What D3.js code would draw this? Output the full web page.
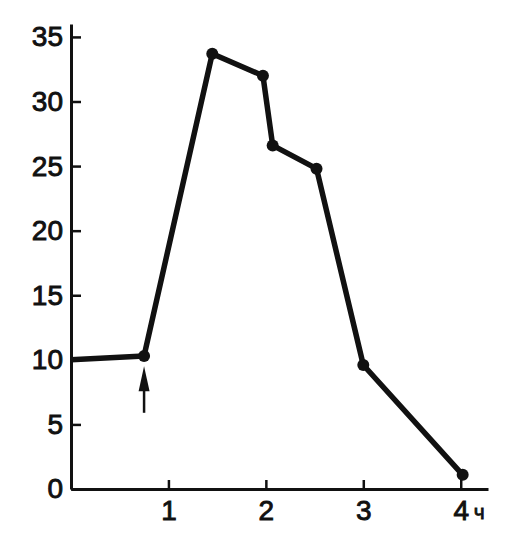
<!DOCTYPE html>
<html>
<head>
<meta charset="utf-8">
<script src="https://cdn.jsdelivr.net/npm/d3@7"></script>
<style>
body { margin: 0; background: #fff; }
svg text { font-family: "Liberation Sans", Arial, sans-serif; fill: #111; }
</style>
</head>
<body>
<div id="chart"></div>
<script>
// hours after start, measured value
var times = [0, 0.75, 1.45, 1.97, 2.07, 2.52, 3.0, 4.02];
var values = [10.0, 10.3, 33.7, 32.0, 26.6, 24.8, 9.6, 1.1];
var xTicks = [1, 2, 3, 4];
var yTicks = [0, 5, 10, 15, 20, 25, 30, 35];
var xUnit = "ч";
// arrow marking the moment of treatment
var arrowTime = 0.75;
var arrowFrom = 5.9, arrowTo = 9.5;

var W = 520, H = 534;
var svg = d3.select("#chart").append("svg")
    .attr("width", W).attr("height", H);

var x = d3.scaleLinear().domain([0, 4.28]).range([71, 488]);
var y = d3.scaleLinear().domain([0, 36]).range([489, 24]);

var yAxis = d3.axisLeft(y).tickValues(yTicks).tickFormat(d3.format("d"))
    .tickSizeInner(-10).tickSizeOuter(0).tickPadding(8);
var xAxis = d3.axisBottom(x).tickValues(xTicks).tickFormat(d3.format("d"))
    .tickSizeInner(-9).tickSizeOuter(0).tickPadding(11);

var gy = svg.append("g").attr("transform", "translate(" + x(0) + ",0)").call(yAxis);
var gx = svg.append("g").attr("transform", "translate(0," + y(0) + ")").call(xAxis);

[gx, gy].forEach(function(g){
    g.select(".domain").attr("stroke", "#111").attr("stroke-width", 3);
    g.selectAll(".tick line").attr("stroke", "#111").attr("stroke-width", 2.5);
    g.selectAll(".tick text")
        .attr("font-size", 28)
        .attr("font-family", "Liberation Sans, Arial, sans-serif")
        .attr("fill", "#111")
        .attr("stroke", "#111")
        .attr("stroke-width", 0.9);
});

svg.append("text")
    .attr("x", x(4) + 13).attr("y", y(0) + 30)
    .attr("font-size", 21)
    .attr("stroke", "#111").attr("stroke-width", 0.8)
    .text(xUnit);

var pts = times.map(function(t, i){ return [t, values[i]]; });

var line = d3.line()
    .x(function(d){ return x(d[0]); })
    .y(function(d){ return y(d[1]); });

svg.append("path")
    .datum(pts)
    .attr("d", line)
    .attr("fill", "none")
    .attr("stroke", "#111")
    .attr("stroke-width", 5.5)
    .attr("stroke-linejoin", "round");

svg.selectAll("circle.pt")
    .data(pts.slice(1))
    .enter().append("circle")
    .attr("class", "pt")
    .attr("cx", function(d){ return x(d[0]); })
    .attr("cy", function(d){ return y(d[1]); })
    .attr("r", 6)
    .attr("fill", "#111");

// arrow
var ax = x(arrowTime);
svg.append("line")
    .attr("x1", ax).attr("x2", ax)
    .attr("y1", y(arrowFrom)).attr("y2", y(arrowTo) + 10)
    .attr("stroke", "#111").attr("stroke-width", 2.5);
svg.append("path")
    .attr("d", "M" + ax + "," + y(arrowTo) +
        "L" + (ax - 5.5) + "," + (y(arrowTo) + 25) +
        "L" + (ax + 5.5) + "," + (y(arrowTo) + 25) + "Z")
    .attr("fill", "#111");
</script>
</body>
</html>
